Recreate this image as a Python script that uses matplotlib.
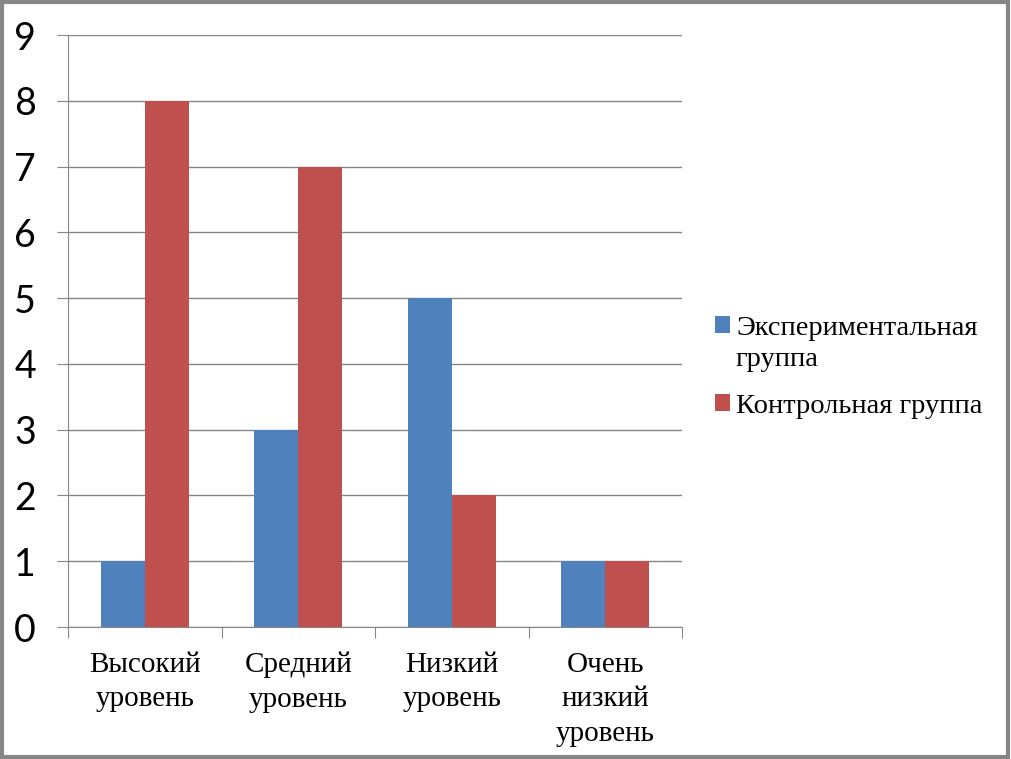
import numpy as np
import matplotlib
matplotlib.use("Agg")
import matplotlib.pyplot as plt
from matplotlib.patches import Rectangle

# Données
categories = ["Высокий\nуровень", "Средний\nуровень", "Низкий\nуровень", "Очень\nнизкий\nуровень"]
experimentale = [1, 3, 5, 1]
controle = [8, 7, 2, 1]
noms = ["Экспериментальная\nгруппа", "Контрольная группа"]

fig = plt.figure(figsize=(10.11, 7.59), dpi=100)
ax = fig.add_axes([68/1011, 1-627/759, 614/1011, 592/759])

x = np.arange(len(categories))
w = 0.2866
ax.bar(x - w/2, experimentale, w, color='#4F81BD', label=noms[0], zorder=3)
ax.bar(x + w/2, controle, w, color='#C0504D', label=noms[1], zorder=3)

ax.set_xlim(-0.5, len(categories) - 0.5)
ax.set_ylim(0, 9)
ax.set_yticks(range(0, 10))
ax.yaxis.grid(True, color='#868686', linewidth=1, zorder=0)
for s in ['top', 'right']:
    ax.spines[s].set_visible(False)
for s in ['left', 'bottom']:
    ax.spines[s].set_color('#868686')
ax.tick_params(axis='y', length=8, color='#868686', labelsize=27, pad=15)
for lab in ax.get_yticklabels():
    lab.set_family('Lato')

# ticks x aux limites des catégories
ax.set_xticks(np.arange(-0.5, len(categories)), minor=False)
ax.set_xticklabels([])
ax.set_xticks(x, minor=True)
ax.set_xticklabels(categories, minor=True, fontsize=21, family='Liberation Serif', linespacing=1.42)
ax.tick_params(axis='x', which='major', length=8, color='#868686')
ax.tick_params(axis='x', which='minor', length=0, pad=18)
for lab in ax.get_xticklabels(minor=True):
    lab.set_verticalalignment('top')

leg = fig.legend(loc='upper left', bbox_to_anchor=(689/1011, 1-290/759), frameon=False,
                 prop={'family': 'Liberation Serif', 'size': 20.5}, handlelength=0.55,
                 handleheight=0.55, handletextpad=0.2, labelspacing=0.75)
for t in leg.get_texts():
    t.set_linespacing(1.35)
# carré aligné sur la première ligne du texte
for col in leg._legend_handle_box.get_children():
    for item in col.get_children():
        item.align = 'top'

# cadre de la figure
fig.patches.append(Rectangle((0.0015, 0.002), 0.9955, 0.996, transform=fig.transFigure,
                             fill=False, edgecolor='#868686', linewidth=3))

fig.savefig("out.png", dpi=100)
